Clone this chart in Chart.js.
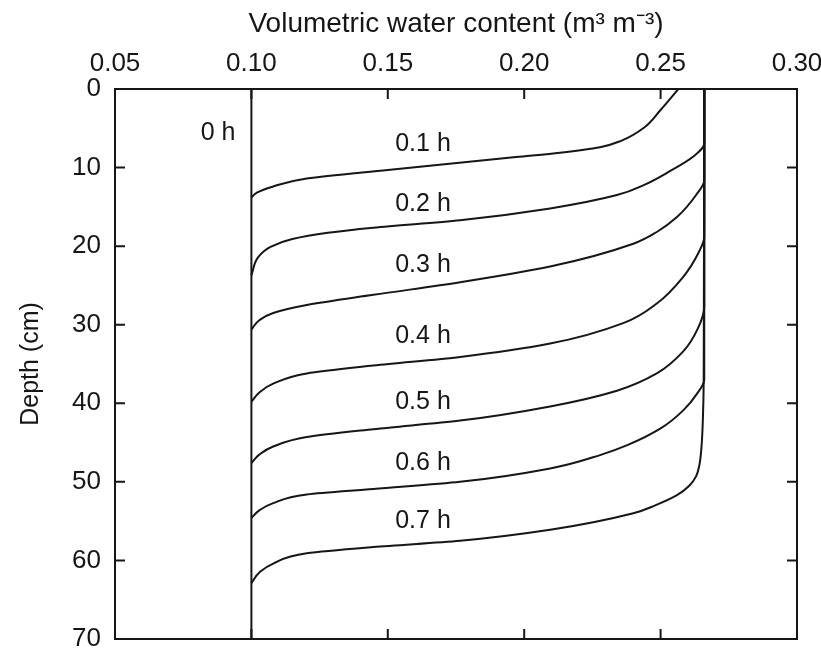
<!DOCTYPE html>
<html>
<head>
<meta charset="utf-8">
<script src="https://cdn.jsdelivr.net/npm/chart.js@4/dist/chart.umd.min.js"></script>
<style>
  html, body { margin: 0; padding: 0; background: #fff; }
  #wrap { width: 821px; height: 649px; }
</style>
</head>
<body>
<div id="wrap"><canvas id="c" width="821" height="649"></canvas></div>
<script>
// ---- data: [volumetric water content (m3 m-3), depth (cm)] ----
const xTicks = [0.05, 0.10, 0.15, 0.20, 0.25, 0.30];
const yTicks = [0, 10, 20, 30, 40, 50, 60, 70];

const h00 = [[0.100, 0], [0.100, 70]];
const h01 = [[0.2565, 0], [0.2499, 2.7], [0.2440, 4.9], [0.2355, 6.6], [0.2278, 7.4], [0.2131, 8.1], [0.1970, 8.65], [0.1500, 10.3], [0.1203, 11.4], [0.1080, 12.4], [0.1020, 13.2], [0.1000, 13.8]];
const h02 = [[0.266, 0], [0.266, 6.9], [0.262, 8.6], [0.2522, 10.7], [0.244, 12.2], [0.234, 13.5], [0.2095, 15.2], [0.1765, 16.7], [0.1447, 17.65], [0.128, 18.3], [0.115, 19.1], [0.107, 20.1], [0.1025, 21.4], [0.100, 23.7]];
const h03 = [[0.266, 0], [0.266, 11.6], [0.2632, 13.4], [0.256, 16.3], [0.2486, 18.2], [0.240, 19.7], [0.2095, 22.6], [0.1765, 24.6], [0.1447, 26.2], [0.1203, 27.5], [0.108, 28.5], [0.103, 29.4], [0.100, 30.6]];
const h04 = [[0.266, 0], [0.266, 18.8], [0.2638, 20.9], [0.2583, 23.9], [0.2486, 27.3], [0.2363, 29.8], [0.2095, 32.4], [0.1765, 34.1], [0.1447, 35.2], [0.1203, 36.2], [0.108, 37.5], [0.103, 38.6], [0.100, 39.8]];
const h05 = [[0.266, 0], [0.266, 27.7], [0.2635, 30.6], [0.2583, 33.4], [0.2486, 36.2], [0.234, 38.4], [0.2095, 40.4], [0.1765, 42.2], [0.1447, 43.3], [0.1203, 44.3], [0.108, 45.5], [0.103, 46.5], [0.100, 47.6]];
const h06 = [[0.266, 0], [0.266, 37.0], [0.2635, 38.7], [0.2583, 40.9], [0.250, 43.2], [0.238, 45.3], [0.2278, 46.6], [0.2095, 48.3], [0.1765, 50.0], [0.1447, 50.9], [0.1203, 51.6], [0.108, 52.7], [0.103, 53.6], [0.100, 54.6]];
const h07 = [[0.266, 0], [0.2658, 37.0], [0.2655, 42.0], [0.2650, 45.5], [0.2642, 47.9], [0.263, 49.3], [0.2605, 50.5], [0.256, 51.7], [0.248, 53.0], [0.240, 54.0], [0.2095, 56.1], [0.1765, 57.5], [0.1447, 58.3], [0.1203, 59.1], [0.108, 60.4], [0.103, 61.5], [0.100, 62.9]];

const labelText  = ['0 h', '0.1 h', '0.2 h', '0.3 h', '0.4 h', '0.5 h', '0.6 h', '0.7 h'];
const labelTheta = [0.0878, 0.1629, 0.1629, 0.1629, 0.1629, 0.1629, 0.1629, 0.1629];
const labelDepth = [5.6, 7.0, 14.6, 22.4, 31.4, 39.9, 47.6, 55.0];

const profiles = [h00, h01, h02, h03, h04, h05, h06, h07];

const INK = '#161616';
const FONT = "'Liberation Sans', Arial, Helvetica, sans-serif";

const framePlugin = {
  id: 'frame',
  afterDatasetsDraw(chart) {
    const { ctx, chartArea: a, scales: { x, y } } = chart;
    ctx.save();
    ctx.strokeStyle = INK;
    ctx.lineWidth = 2;
    ctx.strokeRect(a.left, a.top, a.right - a.left, a.bottom - a.top);
    const tl = 10;
    ctx.beginPath();
    xTicks.forEach(v => {
      const px = x.getPixelForValue(v);
      ctx.moveTo(px, a.top); ctx.lineTo(px, a.top + tl);
      ctx.moveTo(px, a.bottom); ctx.lineTo(px, a.bottom - tl);
    });
    yTicks.forEach(v => {
      const py = y.getPixelForValue(v);
      ctx.moveTo(a.left, py); ctx.lineTo(a.left + tl, py);
      ctx.moveTo(a.right, py); ctx.lineTo(a.right - tl, py);
    });
    ctx.stroke();
    ctx.fillStyle = INK;
    ctx.font = '25px ' + FONT;
    ctx.textAlign = 'center';
    ctx.textBaseline = 'middle';
    labelText.forEach((t, i) => {
      ctx.fillText(t, x.getPixelForValue(labelTheta[i]), y.getPixelForValue(labelDepth[i]));
    });
    ctx.restore();
  }
};

new Chart(document.getElementById('c'), {
  type: 'line',
  data: {
    datasets: profiles.map((p, i) => ({
      label: labelText[i],
      data: p.map(([t, d]) => ({ x: t, y: d })),
      borderColor: INK,
      borderWidth: 2,
      pointRadius: 0,
      cubicInterpolationMode: 'monotone',
      fill: false
    }))
  },
  options: {
    indexAxis: 'y',
    responsive: false,
    animation: false,
    devicePixelRatio: 1,
    layout: { padding: { left: 0, right: 24, top: 0, bottom: 10 } },
    plugins: { legend: { display: false }, tooltip: { enabled: false } },
    scales: {
      x: {
        type: 'linear',
        position: 'top',
        min: 0.05, max: 0.30,
        afterBuildTicks(s) { s.ticks = xTicks.map(v => ({ value: v })); },
        afterFit(s) { s.height = 89; s.paddingLeft = 0; s.paddingRight = 0; },
        grid: { display: false, drawTicks: false },
        border: { display: false },
        ticks: {
          color: INK, padding: 10, maxRotation: 0, autoSkip: false,
          font: { family: FONT, size: 26 },
          callback: v => Number(v).toFixed(2)
        },
        title: {
          display: true, text: 'Volumetric water content (m³ m⁻³)', color: INK,
          font: { family: FONT, size: 28 }, padding: { top: 7, bottom: 0 }
        }
      },
      y: {
        type: 'linear',
        position: 'left',
        reverse: true,
        min: 0, max: 70,
        afterBuildTicks(s) { s.ticks = yTicks.map(v => ({ value: v })); },
        afterFit(s) { s.width = 115; s.paddingTop = 0; s.paddingBottom = 0; },
        grid: { display: false, drawTicks: false },
        border: { display: false },
        ticks: {
          color: INK, padding: 14, autoSkip: false,
          font: { family: FONT, size: 26 }
        },
        title: {
          display: true, text: 'Depth (cm)', color: INK,
          font: { family: FONT, size: 25 }, padding: { top: 16, bottom: 0 }
        }
      }
    }
  },
  plugins: [framePlugin]
});
</script>
</body>
</html>
